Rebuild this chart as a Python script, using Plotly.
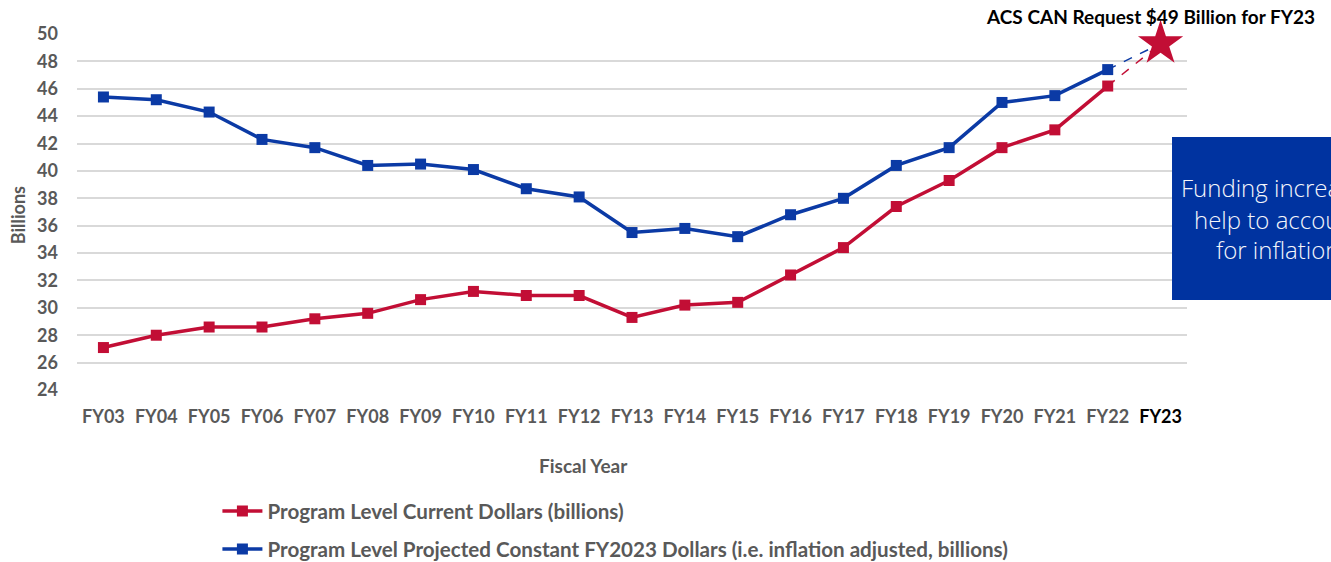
import plotly.graph_objects as go

years = ["FY03","FY04","FY05","FY06","FY07","FY08","FY09","FY10","FY11","FY12",
         "FY13","FY14","FY15","FY16","FY17","FY18","FY19","FY20","FY21","FY22"]
all_cats = years + ["FY23"]
current = [27.1,28.0,28.6,28.6,29.2,29.6,30.6,31.2,30.9,30.9,
           29.3,30.2,30.4,32.4,34.4,37.4,39.3,41.7,43.0,46.2]
constant = [45.4,45.2,44.3,42.3,41.7,40.4,40.5,40.1,38.7,38.1,
            35.5,35.8,35.2,36.8,38.0,40.4,41.7,45.0,45.5,47.4]
request_cat = "FY23"
request_val = 49.3
y_ticks = [24,26,28,30,32,34,36,38,40,42,44,46,48,50]
box_lines = ["Funding increases", "help to account", "for inflation"]

RED = "#C20E35"
BLUE = "#0B3AA5"
GRAY = "#595959"
FONT = "Lato"

fig = go.Figure()
fig.add_trace(go.Scatter(x=years, y=current, mode="lines+markers",
    name="Program Level Current Dollars (billions)",
    line=dict(color=RED, width=3.5), marker=dict(symbol="square", size=11, color=RED),
    legend="legend"))
fig.add_trace(go.Scatter(x=years, y=constant, mode="lines+markers",
    name="Program Level Projected Constant FY2023 Dollars (i.e. inflation adjusted, billions)",
    line=dict(color=BLUE, width=3.5), marker=dict(symbol="square", size=11, color=BLUE),
    legend="legend2"))
fig.add_trace(go.Scatter(x=[years[-1], request_cat], y=[current[-1], request_val], mode="lines",
    line=dict(color=RED, width=1.5, dash="dash"), showlegend=False, hoverinfo="skip"))
fig.add_trace(go.Scatter(x=[years[-1], request_cat], y=[constant[-1], request_val], mode="lines",
    line=dict(color=BLUE, width=1.5, dash="dash"), showlegend=False, hoverinfo="skip"))
fig.add_trace(go.Scatter(x=[request_cat], y=[request_val], mode="markers",
    marker=dict(symbol="star", size=34, color=RED, line=dict(width=0)),
    showlegend=False, cliponaxis=False))

ticktext = [c if c != "FY23" else "<span style='color:#000000'>FY23</span>" for c in all_cats]

box_ann = [dict(text=t, xref="paper", yref="paper", x=1.082, y=yy, xanchor="center",
                yanchor="middle", showarrow=False,
                font=dict(size=24, family="Open Sans", color="#F4F6FB", weight=300))
           for t, yy in zip(box_lines, [0.5702, 0.4803, 0.3933])]

fig.update_layout(
    width=1331, height=562, autosize=False,
    margin=dict(l=77, r=144, t=34, b=172, autoexpand=False),
    paper_bgcolor="white", plot_bgcolor="white",
    font=dict(family=FONT, color=GRAY),
    xaxis=dict(type="category", categoryorder="array", categoryarray=all_cats,
               tickvals=all_cats, ticktext=ticktext, range=[-0.5, 20.5],
               showgrid=False, zeroline=False, showline=False, ticks="",
               tickfont=dict(size=18, family=FONT, color=GRAY, weight="bold"),
               ticklabelstandoff=14),
    yaxis=dict(range=[24, 50], tickvals=y_ticks, showgrid=True, gridcolor="#D9D9D9",
               gridwidth=1.5, zeroline=False, showline=False, ticks="",
               tickfont=dict(size=18, family=FONT, color=GRAY, weight="bold"),
               ticklabelstandoff=18),
    legend=dict(x=0.1265, y=-0.2837, xanchor="left", yanchor="top", bgcolor="rgba(0,0,0,0)",
                itemwidth=40,
                font=dict(size=20.6, family=FONT, color=GRAY, weight="bold")),
    legend2=dict(x=0.1265, y=-0.3905, xanchor="left", yanchor="top", bgcolor="rgba(0,0,0,0)",
                 itemwidth=40,
                 font=dict(size=20.6, family=FONT, color=GRAY, weight="bold")),
    shapes=[dict(type="rect", xref="paper", yref="paper", x0=0.9865, x1=1.25,
                 y0=0.2528, y1=0.7107, fillcolor="#0033A0", line=dict(width=0), layer="above")],
    annotations=box_ann + [
        dict(text="<b>ACS CAN Request $49 Billion for FY23</b>", xref="paper", yref="paper",
             x=0.967, y=1.048, xanchor="center", yanchor="middle", showarrow=False,
             font=dict(size=19, family=FONT, color="#000000")),
        dict(text="<b>Fiscal Year</b>", xref="paper", yref="paper", x=0.456, y=-0.211,
             xanchor="center", yanchor="middle", showarrow=False,
             font=dict(size=19, family=FONT, color=GRAY)),
        dict(text="<b>Billions</b>", xref="paper", yref="paper", x=-0.053, y=0.4916,
             xanchor="center", yanchor="middle", showarrow=False, textangle=-90,
             font=dict(size=18, family=FONT, color=GRAY)),
    ],
)

post = ("document.body.style.margin='0';document.body.style.padding='0';"
        "document.documentElement.style.overflow='hidden';document.body.style.overflow='hidden';")
fig.write_html("out.html", post_script=post,
               config={"displayModeBar": False, "responsive": False})
